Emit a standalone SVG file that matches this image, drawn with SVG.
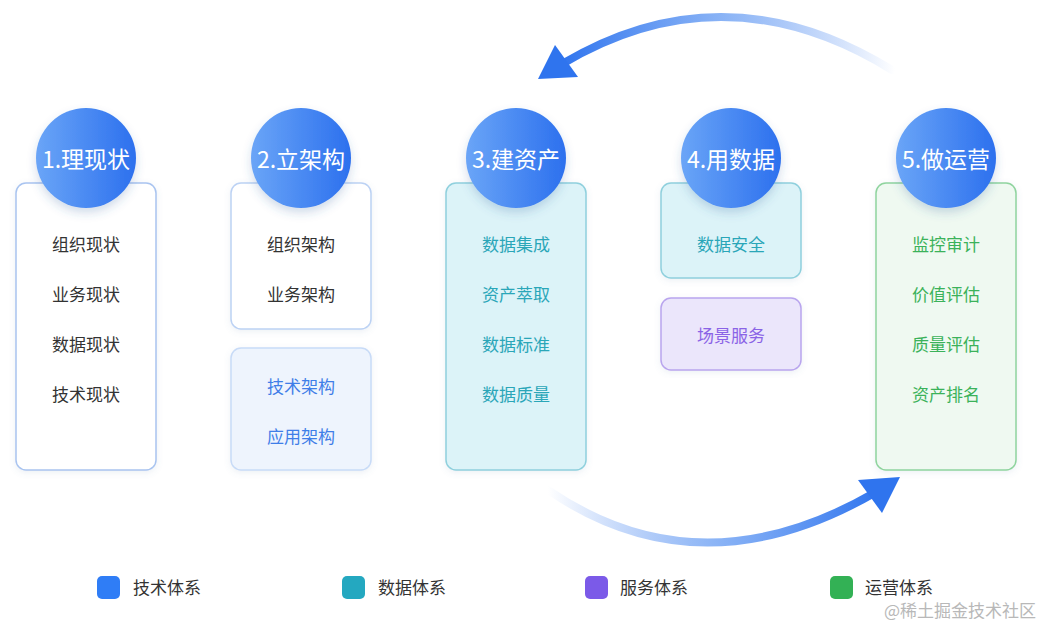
<svg xmlns="http://www.w3.org/2000/svg" width="1043" height="623" viewBox="0 0 1043 623">
<defs>
<style>
.t{font-family:"Noto Sans CJK SC","Noto Sans",sans-serif;font-size:17px;text-anchor:middle;dominant-baseline:central}
.h{font-family:"Noto Sans CJK SC","Noto Sans",sans-serif;font-size:23px;fill:#fff;text-anchor:middle;dominant-baseline:central}
.lg{font-family:"Noto Sans CJK SC","Noto Sans",sans-serif;font-size:17px;fill:#333;dominant-baseline:central}
.dk{fill:#333}
.bl{fill:#3f7ee8}
.cy{fill:#2aa6b8}
.pu{fill:#8a63e6}
.gr{fill:#3bb25a}
</style>
<linearGradient id="cg" x1="0" y1="0" x2="1" y2="0">
<stop offset="0" stop-color="#6aa5f7"/>
<stop offset="1" stop-color="#2c70ee"/>
</linearGradient>
<linearGradient id="ga1" gradientUnits="userSpaceOnUse" x1="895" y1="0" x2="560" y2="0">
<stop offset="0" stop-color="#2f74ee" stop-opacity="0"/>
<stop offset="0.5" stop-color="#5b95f2" stop-opacity="0.7"/>
<stop offset="1" stop-color="#2f74ee"/>
</linearGradient>
<linearGradient id="ga2" gradientUnits="userSpaceOnUse" x1="548" y1="0" x2="880" y2="0">
<stop offset="0" stop-color="#2f74ee" stop-opacity="0"/>
<stop offset="0.5" stop-color="#5b95f2" stop-opacity="0.7"/>
<stop offset="1" stop-color="#2f74ee"/>
</linearGradient>
<filter id="sh" x="-30%" y="-30%" width="160%" height="170%">
<feDropShadow dx="0" dy="5" stdDeviation="5" flood-color="#3060a0" flood-opacity="0.22"/>
</filter>
<filter id="bs" x="-10%" y="-10%" width="120%" height="120%">
<feDropShadow dx="0" dy="2" stdDeviation="3" flood-color="#6080b0" flood-opacity="0.12"/>
</filter>
</defs>
<rect width="1043" height="623" fill="#fff"/>

<g id="connectors">
<path d="M 892 70 Q 725 -33 562 64" fill="none" stroke="url(#ga1)" stroke-width="8" stroke-linecap="round"/>
<polygon points="538,79 555,45 578,77" fill="#2f74ee"/>
<path d="M 548 490 Q 700 594 876 492" fill="none" stroke="url(#ga2)" stroke-width="8" stroke-linecap="round"/>
<polygon points="900,477 858,480 882,513" fill="#2f74ee"/>
</g>

<g id="node1">
<rect x="16" y="183" width="140" height="287" rx="10" fill="#fff" stroke="#a9c4f0" stroke-width="1.5" filter="url(#bs)"/>
<text class="t dk" x="86" y="243">组织现状</text>
<text class="t dk" x="86" y="293">业务现状</text>
<text class="t dk" x="86" y="343">数据现状</text>
<text class="t dk" x="86" y="393">技术现状</text>
<circle cx="86" cy="158" r="50" fill="url(#cg)" filter="url(#sh)"/>
<text class="h" x="86" y="158">1.理现状</text>
</g>

<g id="node2">
<rect x="231" y="183" width="140" height="146" rx="10" fill="#fff" stroke="#bcd2f4" stroke-width="1.5" filter="url(#bs)"/>
<text class="t dk" x="301" y="243">组织架构</text>
<text class="t dk" x="301" y="293">业务架构</text>
<rect x="231" y="348" width="140" height="122" rx="10" fill="#eef4fd" stroke="#c8dbf7" stroke-width="1.5" filter="url(#bs)"/>
<text class="t bl" x="301" y="385">技术架构</text>
<text class="t bl" x="301" y="435">应用架构</text>
<circle cx="301" cy="158" r="50" fill="url(#cg)" filter="url(#sh)"/>
<text class="h" x="301" y="158">2.立架构</text>
</g>

<g id="node3">
<rect x="446" y="183" width="140" height="287" rx="10" fill="#dcf3f8" stroke="#8fd0dd" stroke-width="1.5" filter="url(#bs)"/>
<text class="t cy" x="516" y="243">数据集成</text>
<text class="t cy" x="516" y="293">资产萃取</text>
<text class="t cy" x="516" y="343">数据标准</text>
<text class="t cy" x="516" y="393">数据质量</text>
<circle cx="516" cy="158" r="50" fill="url(#cg)" filter="url(#sh)"/>
<text class="h" x="516" y="158">3.建资产</text>
</g>

<g id="node4">
<rect x="661" y="183" width="140" height="95" rx="10" fill="#dcf3f8" stroke="#8fd0dd" stroke-width="1.5" filter="url(#bs)"/>
<text class="t cy" x="731" y="243">数据安全</text>
<rect x="661" y="298" width="140" height="72" rx="10" fill="#ebe6fb" stroke="#b9a5ee" stroke-width="1.5" filter="url(#bs)"/>
<text class="t pu" x="731" y="334">场景服务</text>
<circle cx="731" cy="158" r="50" fill="url(#cg)" filter="url(#sh)"/>
<text class="h" x="731" y="158">4.用数据</text>
</g>

<g id="node5">
<rect x="876" y="183" width="140" height="287" rx="10" fill="#eff9f1" stroke="#8fd49e" stroke-width="1.5" filter="url(#bs)"/>
<text class="t gr" x="946" y="243">监控审计</text>
<text class="t gr" x="946" y="293">价值评估</text>
<text class="t gr" x="946" y="343">质量评估</text>
<text class="t gr" x="946" y="393">资产排名</text>
<circle cx="946" cy="158" r="50" fill="url(#cg)" filter="url(#sh)"/>
<text class="h" x="946" y="158">5.做运营</text>
</g>

<g id="legend">
<rect x="97" y="576" width="23" height="23" rx="5" fill="#2f7df6"/>
<text class="lg" x="133" y="586">技术体系</text>
<rect x="342" y="576" width="23" height="23" rx="5" fill="#24a8c0"/>
<text class="lg" x="378" y="586">数据体系</text>
<rect x="585" y="576" width="23" height="23" rx="5" fill="#7b5ae8"/>
<text class="lg" x="620" y="586">服务体系</text>
<rect x="830" y="576" width="23" height="23" rx="5" fill="#33b155"/>
<text class="lg" x="865" y="586">运营体系</text>
</g>
<text x="1036" y="609" font-family="'Noto Sans CJK SC','Noto Sans',sans-serif" font-size="17" fill="#b8b8b8" text-anchor="end" dominant-baseline="central">@稀土掘金技术社区</text>
</svg>
